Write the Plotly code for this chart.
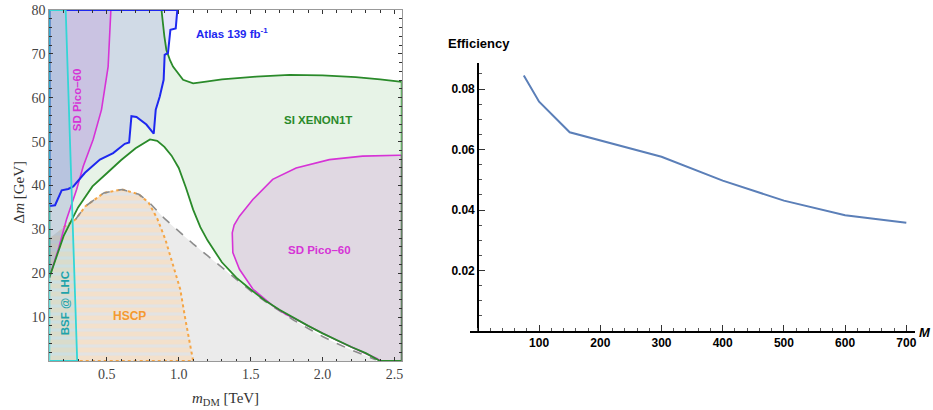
import plotly.graph_objects as go

# ---------------- Left panel data (m_DM [TeV], Δm [GeV]) ----------------
atlas_x = [0.1, 0.14, 0.186, 0.232, 0.267, 0.348, 0.452, 0.544, 0.625, 0.655, 0.671, 0.706, 0.775, 0.826,
           0.84, 0.868, 0.895, 0.902, 0.925, 0.942, 0.979, 0.984, 0.99, 0.1, 0.1]
atlas_y = [35.3, 35.5, 38.9, 39.2, 39.8, 42.9, 45.9, 47.4, 49.5, 49.8, 55.8, 55.6, 53.9, 51.8,
           57.3, 60.3, 64.1, 69.8, 70.2, 75.5, 75.8, 79.2, 80, 80, 35.3]

xenon_low_x = [0.1, 0.2, 0.3, 0.4, 0.5, 0.6, 0.7, 0.8, 0.85, 0.9, 0.95, 1.0, 1.05, 1.1, 1.15, 1.2, 1.3, 1.4,
               1.5, 1.6, 1.7, 1.8, 1.9, 2.0, 2.1, 2.2, 2.3, 2.38, 2.4]
xenon_low_y = [19, 28.5, 35, 39.8, 42.8, 45.8, 48.5, 50.5, 50.2, 48.8, 46.8, 44, 39.5, 34.5, 30.5, 27.5, 22.5, 19,
               16.3, 13.8, 11.7, 9.8, 8.0, 6.3, 4.7, 3.2, 1.8, 0.5, 0]
xenon_up_x = [2.55, 2.4, 2.23, 2.0, 1.77, 1.538, 1.3, 1.19, 1.1, 1.03, 1.0, 0.96, 0.94, 0.914, 0.9, 0.88]
xenon_up_y = [63.6, 64.2, 64.7, 65.1, 65.2, 64.8, 64.2, 63.7, 63.3, 64.1, 65.3, 67.1, 68.5, 70.9, 74, 80]

pico_left_x = [0.1, 0.128, 0.163, 0.22, 0.255, 0.29, 0.336, 0.405, 0.463, 0.509, 0.528, 0.1, 0.1]
pico_left_y = [19, 21.7, 25.5, 32.3, 35.5, 39.1, 44.4, 50.5, 57.3, 67.1, 80, 80, 19]

pico_right_x = [2.55, 2.53, 2.278, 2.047, 1.816, 1.653, 1.515, 1.422, 1.385, 1.372, 1.376, 1.422, 1.515,
                1.653, 1.746, 1.8, 1.9, 2.0, 2.1, 2.2, 2.3, 2.38, 2.4, 2.55, 2.55]
pico_right_y = [46.9, 46.9, 46.7, 45.9, 44.0, 41.4, 36.8, 33.0, 31.0, 29.2, 24.7, 20.9, 16.4,
                12.6, 10.6, 9.8, 8.0, 6.3, 4.7, 3.2, 1.8, 0.5, 0, 0, 46.9]

bsf_x = [0.1, 0.1, 0.214, 0.294, 0.1]
bsf_y = [0, 80, 80, 0, 0]

gray_x = [0.283, 0.352, 0.479, 0.606, 0.722, 0.79, 0.9, 1.0, 1.1, 1.2, 1.3, 1.4, 1.5, 1.6, 1.7, 1.8, 1.9,
          2.0, 2.1, 2.2, 2.3, 2.37]
gray_y = [32.3, 35.3, 38.3, 39.1, 38.0, 36.3, 32.5, 29.5, 26.7, 24.0, 21.3, 18.6, 16.0, 13.6, 11.4, 9.3, 7.4,
          5.6, 4.0, 2.5, 1.2, 0.3]

hscp_x = [0.1, 0.1, 0.2, 0.283, 0.352, 0.479, 0.606, 0.722, 0.79, 0.85, 0.907, 0.953, 1.01, 1.046, 1.09, 1.1]
hscp_y = [0, 28, 30.5, 32.3, 35.3, 38.3, 39.1, 38.0, 36.1, 32.5, 27.7, 22.4, 16.4, 9.5, 1.2, 0]

left_xticks = [0.5, 1.0, 1.5, 2.0, 2.5]
left_xticklabels = ["0.5", "1.0", "1.5", "2.0", "2.5"]
left_yticks = [10, 20, 30, 40, 50, 60, 70, 80]

# ---------------- Right panel data ----------------
eff_mass = [75, 100, 150, 200, 300, 400, 500, 600, 700]
eff_val = [0.0845, 0.0758, 0.0657, 0.0630, 0.0576, 0.0497, 0.0431, 0.0383, 0.0358]
right_xticks = [100, 200, 300, 400, 500, 600, 700]
right_yticks = [0.02, 0.04, 0.06, 0.08]
right_yticklabels = ["0.02", "0.04", "0.06", "0.08"]

W, H = 933, 410
fig = go.Figure()

def closed(xs, ys):
    return list(xs) + [xs[0]], list(ys) + [ys[0]]

# gray region
gx = gray_x + [gray_x[-1], gray_x[0]]
gy = gray_y + [0, 0]
fig.add_trace(go.Scatter(x=gx, y=gy, fill="toself", fillcolor="#EBEBEB", mode="none",
                         xaxis="x", yaxis="y", hoverinfo="skip", showlegend=False))
# HSCP striped region
hx, hy = closed(hscp_x, hscp_y)
fig.add_trace(go.Scatter(x=hx, y=hy, fill="toself", mode="none",
                         fillpattern=dict(shape="-", bgcolor="#E3E3E3", fgcolor="#F3E0CB",
                                          size=8, solidity=0.6, fgopacity=1),
                         xaxis="x", yaxis="y", hoverinfo="skip", showlegend=False))
# Xenon region
xe_x = xenon_low_x + [2.55] + xenon_up_x + [0.1, 0.1]
xe_y = xenon_low_y + [0] + xenon_up_y + [80, 19]
fig.add_trace(go.Scatter(x=xe_x, y=xe_y, fill="toself", fillcolor="rgba(60,160,60,0.12)", mode="none",
                         xaxis="x", yaxis="y", hoverinfo="skip", showlegend=False))
# Pico regions
for px_, py_ in [(pico_left_x, pico_left_y), (pico_right_x, pico_right_y)]:
    fig.add_trace(go.Scatter(x=px_, y=py_, fill="toself", fillcolor="rgba(200,110,210,0.2)", mode="none",
                             xaxis="x", yaxis="y", hoverinfo="skip", showlegend=False))
# Atlas
fig.add_trace(go.Scatter(x=atlas_x, y=atlas_y, fill="toself", fillcolor="rgba(80,80,230,0.15)", mode="none",
                         xaxis="x", yaxis="y", hoverinfo="skip", showlegend=False))
# BSF
fig.add_trace(go.Scatter(x=bsf_x, y=bsf_y, fill="toself", fillcolor="rgba(80,200,210,0.15)", mode="none",
                         xaxis="x", yaxis="y", hoverinfo="skip", showlegend=False))

def line(xs, ys, color, width, dash="solid"):
    fig.add_trace(go.Scatter(x=xs, y=ys, mode="lines", line=dict(color=color, width=width, dash=dash),
                             xaxis="x", yaxis="y", hoverinfo="skip", showlegend=False))

line(hscp_x[2:] + [0.294], hscp_y[2:] + [0], "#F5A545", 2, "dot")
line(gray_x, gray_y, "#8C8C8C", 1.6, "dash")
line(pico_left_x, pico_left_y, "#D633D6", 1.6)
line(pico_right_x, pico_right_y, "#D633D6", 1.6)
line(xe_x, xe_y, "#2A8A2A", 1.8)
line(atlas_x, atlas_y, "#1E28F0", 2)
line(bsf_x, bsf_y, "#33D6D6", 1.8)

# Right panel line
fig.add_trace(go.Scatter(x=eff_mass, y=eff_val, mode="lines", line=dict(color="#5B7FB8", width=2),
                         xaxis="x2", yaxis="y2", hoverinfo="skip", showlegend=False))

serif = "Liberation Serif"
sans = "Liberation Sans"

fig.update_layout(
    template="none",
    width=W, height=H, margin=dict(l=0, r=0, t=0, b=0, pad=0), autosize=False,
    paper_bgcolor="white", plot_bgcolor="white",
    xaxis=dict(domain=[49.3 / W, 401.7 / W], range=[0.1, 2.55], showgrid=False, zeroline=False,
               automargin=False,
               showline=True, linecolor="#999", linewidth=1, mirror="allticks",
               ticks="inside", ticklen=4, tickwidth=1.2, tickcolor="#333",
               tickvals=left_xticks, ticktext=left_xticklabels,
               tickfont=dict(family=serif, size=14, color="#444"),
               minor=dict(ticks="inside", dtick=0.1, tick0=0, ticklen=2.5, tickcolor="#333", tickwidth=1),
               anchor="y"),
    yaxis=dict(domain=[1 - 361 / H, 1 - 10 / H], range=[0, 80], showgrid=False, zeroline=False,
               automargin=False,
               showline=True, linecolor="#999", linewidth=1, mirror="allticks",
               ticks="inside", ticklen=4, tickwidth=1.2, tickcolor="#333",
               tickvals=left_yticks, tickfont=dict(family=serif, size=14, color="#444"),
               minor=dict(ticks="inside", dtick=2, tick0=0, ticklen=2.5, tickcolor="#333", tickwidth=1),
               anchor="x"),
    xaxis2=dict(domain=[470 / W, 915 / W], range=[-12.9, 714.2], showgrid=False, zeroline=False,
                automargin=False,
                showline=True, linecolor="black", linewidth=1.6,
                ticks="inside", ticklen=6, tickwidth=1.2, tickcolor="#333",
                tickvals=right_xticks, tickfont=dict(family=sans, size=12, color="black", weight="bold"),
                minor=dict(ticks="inside", dtick=20, tick0=0, ticklen=3.5, tickcolor="#555", tickwidth=1),
                anchor="y2"),
    yaxis2=dict(domain=[1 - 331 / H, 1 - 62.7 / H], range=[0, 0.0887], showgrid=False, zeroline=False,
                automargin=False,
                showline=True, linecolor="black", linewidth=1.6,
                ticks="inside", ticklen=6, tickwidth=1.2, tickcolor="#333",
                tickvals=right_yticks, ticktext=right_yticklabels,
                tickfont=dict(family=sans, size=12, color="black", weight="bold"),
                minor=dict(ticks="inside", dtick=0.005, tick0=0, ticklen=3.5, tickcolor="#555", tickwidth=1),
                anchor="free", position=478 / W),
)

def ann(text, x, y, color, size=12, angle=0, ref="x", family=sans, bold=True, xanchor="center", **kw):
    fig.add_annotation(text=text, x=x, y=y, xref=ref, yref=("y" if ref == "x" else "paper"),
                       showarrow=False, textangle=angle, xanchor=xanchor, yanchor="middle",
                       font=dict(family=family, size=size, color=color, weight=("bold" if bold else "normal")),
                       **kw)

ann("Atlas 139 fb<sup>-1</sup>", 1.37, 74.8, "#1E28F0", 11.5)
ann("SI XENON1T", 1.97, 55, "#2A8A2A", 11.5)
ann("SD Pico–60", 1.98, 25.2, "#D633D6", 11.5)
ann("SD Pico–60", 0.295, 59.5, "#D633D6", 11.5, angle=-90)
ann("BSF @ LHC", 0.21, 13.2, "#1FA3AA", 11.5, angle=-90)
ann("HSCP", 0.657, 10.3, "#F59A30", 12)

# axis titles (left)
ann("Δ<i>m</i> [GeV]", 18.5 / W, 1 - 192 / H, "#333", 15, angle=-90, ref="paper", family=serif, bold=False)
ann("<i>m</i><sub>DM</sub> [TeV]", 225 / W, 1 - 399 / H, "#333", 15, ref="paper", family=serif, bold=False)
# right panel labels
ann("Efficiency", 446 / W, 1 - 44 / H, "black", 13, ref="paper", xanchor="left")
ann("<i>M</i>", 1.0, 1 - 332 / H, "black", 13, ref="paper", xanchor="right")

fig.write_html("out.html", config={"displayModeBar": False},
               post_script="document.body.style.margin='0px';document.body.style.overflow='hidden';")
